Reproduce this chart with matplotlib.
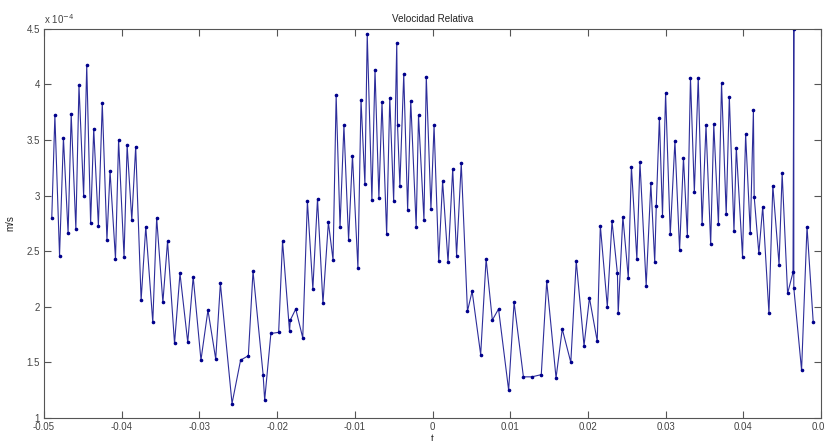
import matplotlib
matplotlib.use("Agg")
import matplotlib.pyplot as plt
from matplotlib.ticker import FuncFormatter

# time (s)
t = [-0.0490, -0.0486, -0.0480, -0.0475, -0.0469, -0.0465, -0.0459, -0.0455, -0.0449, -0.0445,
     -0.0440, -0.0436, -0.0430, -0.0425, -0.0419, -0.0415, -0.0408, -0.0404, -0.0397, -0.0393,
     -0.0387, -0.0382, -0.0375, -0.0369, -0.0360, -0.0355, -0.0347, -0.0341, -0.0332, -0.0325,
     -0.0315, -0.0308, -0.0298, -0.0289, -0.0279, -0.0273, -0.0258, -0.0247, -0.0237, -0.0231,
     -0.0218, -0.0216, -0.0208, -0.0198, -0.0193, -0.0184, -0.0183, -0.0176, -0.0167, -0.0161,
     -0.0154, -0.0148, -0.0141, -0.0134, -0.0128, -0.0124, -0.0119, -0.0114, -0.0108, -0.0103,
     -0.0096, -0.0092, -0.0087, -0.0084, -0.0078, -0.0074, -0.0069, -0.0065, -0.0059, -0.0055,
     -0.0050, -0.0046, -0.0045, -0.0042, -0.0037, -0.0032, -0.0028, -0.0021, -0.0018, -0.0011,
     -0.0008, -0.0002, 0.0002, 0.0008, 0.0013, 0.0020, 0.0026, 0.0031, 0.0037, 0.0045,
     0.0051, 0.0062, 0.0069, 0.0077, 0.0085, 0.0098, 0.0105, 0.0117, 0.0128, 0.0140,
     0.0147, 0.0159, 0.0167, 0.0178, 0.0185, 0.0195, 0.0202, 0.0212, 0.0216, 0.0225,
     0.0231, 0.0238, 0.0239, 0.0245, 0.0252, 0.0256, 0.0263, 0.0267, 0.0275, 0.0281,
     0.0286, 0.0288, 0.0292, 0.0296, 0.0300, 0.0306, 0.0312, 0.0318, 0.0323, 0.0328,
     0.0332, 0.0337, 0.0342, 0.0347, 0.0352, 0.0358, 0.0362, 0.0368, 0.0372, 0.0378,
     0.0382, 0.0388, 0.0391, 0.0399, 0.0403, 0.0409, 0.0413, 0.0414, 0.0420, 0.0425,
     0.0433, 0.0438, 0.0446, 0.0450, 0.0457, 0.0464, 0.0465, 0.0465, 0.0475, 0.0482,
     0.0490]

# velocidad relativa, in units of 1e-4 m/s
v = [2.80, 3.72, 2.46, 3.52, 2.66, 3.73, 2.70, 3.99, 3.00, 4.17,
     2.75, 3.60, 2.73, 3.83, 2.60, 3.22, 2.43, 3.50, 2.45, 3.45,
     2.78, 3.44, 2.06, 2.72, 1.86, 2.80, 2.04, 2.59, 1.67, 2.30,
     1.68, 2.27, 1.52, 1.97, 1.53, 2.21, 1.13, 1.52, 1.56, 2.32,
     1.39, 1.16, 1.76, 1.77, 2.59, 1.78, 1.88, 1.98, 1.72, 2.95,
     2.16, 2.97, 2.03, 2.76, 2.42, 3.90, 2.72, 3.63, 2.60, 3.36,
     2.35, 3.86, 3.10, 4.45, 2.96, 4.13, 2.98, 3.84, 2.65, 3.88,
     2.95, 4.37, 3.63, 3.09, 4.09, 2.87, 3.85, 2.72, 3.72, 2.78,
     4.07, 2.88, 3.63, 2.41, 3.13, 2.40, 3.24, 2.46, 3.29, 1.96,
     2.14, 1.57, 2.43, 1.88, 1.98, 1.25, 2.04, 1.37, 1.37, 1.39,
     2.23, 1.36, 1.80, 1.50, 2.41, 1.65, 2.08, 1.69, 2.73, 2.00,
     2.77, 2.30, 1.94, 2.81, 2.26, 3.26, 2.43, 3.30, 2.19, 3.11,
     2.40, 2.91, 3.70, 2.82, 3.92, 2.65, 3.49, 2.51, 3.34, 2.64,
     4.06, 3.03, 4.06, 2.74, 3.63, 2.56, 3.64, 2.74, 4.01, 2.83,
     3.89, 2.68, 3.43, 2.45, 3.55, 2.66, 3.77, 2.99, 2.48, 2.90,
     1.94, 3.09, 2.38, 3.20, 2.12, 2.31, 4.50, 2.17, 1.43, 2.72,
     1.86]

xticks = [-0.05, -0.04, -0.03, -0.02, -0.01, 0, 0.01, 0.02, 0.03, 0.04, 0.05]
yticks = [1, 1.5, 2, 2.5, 3, 3.5, 4, 4.5]

plt.rcParams['font.family'] = ['Liberation Sans', 'DejaVu Sans']
plt.rcParams['axes.unicode_minus'] = False

fig = plt.figure(figsize=(8.25, 4.41), dpi=100)
ax = fig.add_axes([44/825, 23/441, 777/825, 389.3/441])

ax.plot(t, v, color='#2d2d9a', lw=0.8, marker='.', ms=3.2,
        mfc='#00008b', mec='#00008b')

ax.set_xlim(-0.05, 0.05)
ax.set_ylim(1, 4.5)
ax.set_xticks(xticks)
ax.set_yticks(yticks)
ax.xaxis.set_major_formatter(FuncFormatter(lambda x, p: '%g' % round(x, 4)))
ax.yaxis.set_major_formatter(FuncFormatter(lambda y, p: '%g' % y))

ax.tick_params(direction='in', top=True, right=True, length=5, width=0.8,
               color='#555555', labelsize=7, labelcolor='#444444', pad=3)
for s in ax.spines.values():
    s.set_color('#555555')
    s.set_linewidth(0.8)

ax.set_title('Velocidad Relativa', fontsize=7.1, pad=5, color='#222222')
ax.set_xlabel('t', fontsize=7, labelpad=1, color='#222222')
ax.set_ylabel('m/s', fontsize=7, labelpad=8, color='#222222')
ax.text(0.0, 1.008, r'x 10$^{-4}$', transform=ax.transAxes, fontsize=7,
        color='#444444', ha='left', va='bottom')

fig.savefig('out.png', dpi=100)
